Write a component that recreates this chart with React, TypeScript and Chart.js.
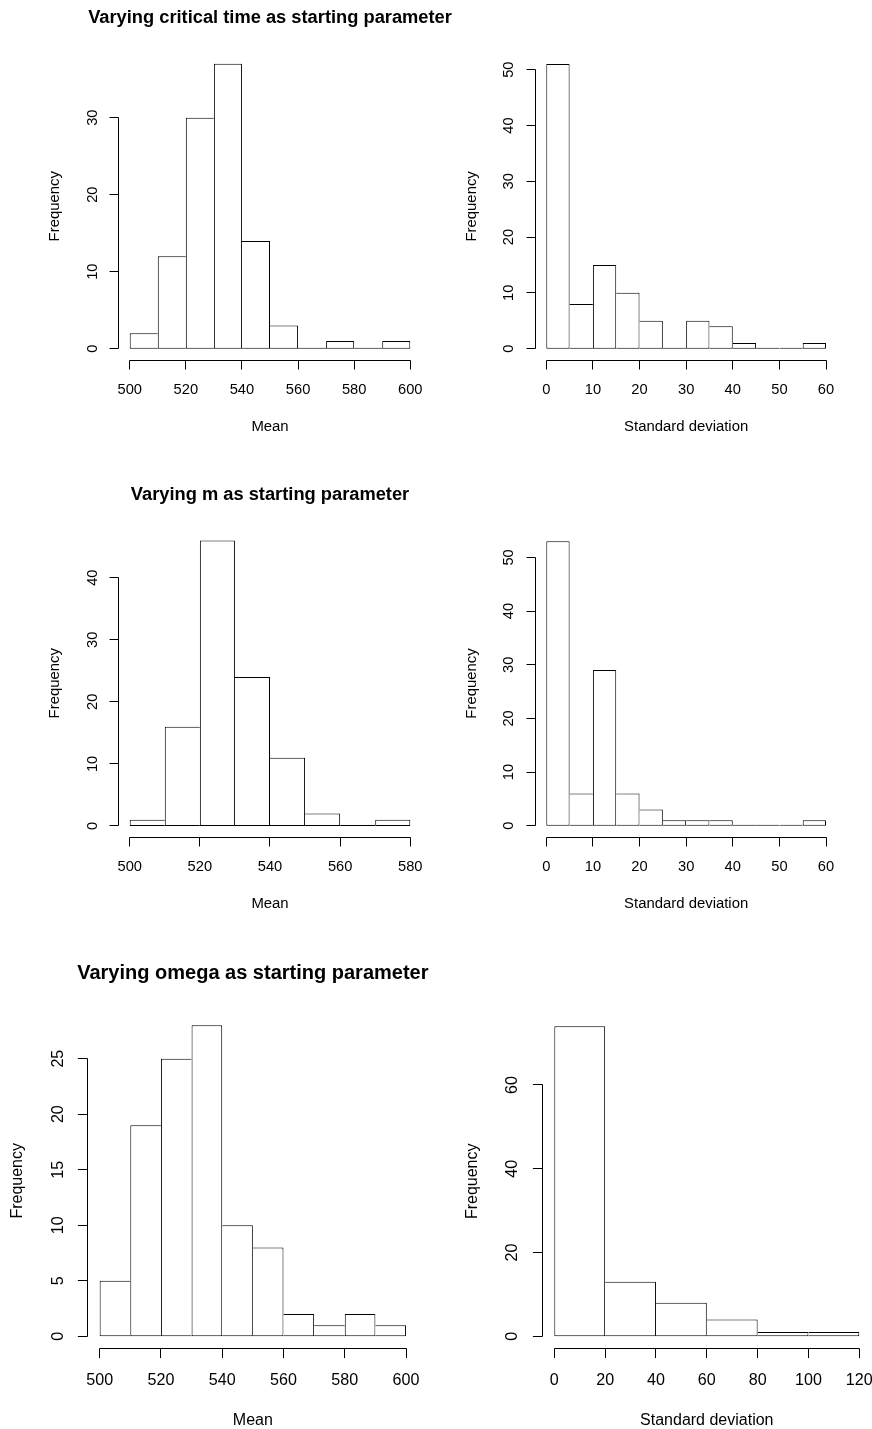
import React, { useEffect, useRef } from "react";
import { Chart, registerables } from "chart.js";

Chart.register(...registerables);

// ---------------- Data ----------------
const critMeanBreaks = [500, 510, 520, 530, 540, 550, 560, 570, 580, 590, 600];
const critMeanCounts = [2, 12, 30, 37, 14, 3, 0, 1, 0, 1];
const critMeanXTicks = [500, 520, 540, 560, 580, 600];
const critMeanYTicks = [0, 10, 20, 30];

const critSdBreaks = [0, 5, 10, 15, 20, 25, 30, 35, 40, 45, 50, 55, 60];
const critSdCounts = [51, 8, 15, 10, 5, 0, 5, 4, 1, 0, 0, 1];
const critSdXTicks = [0, 10, 20, 30, 40, 50, 60];
const critSdYTicks = [0, 10, 20, 30, 40, 50];

const mMeanBreaks = [500, 510, 520, 530, 540, 550, 560, 570, 580];
const mMeanCounts = [1, 16, 46, 24, 11, 2, 0, 1];
const mMeanXTicks = [500, 520, 540, 560, 580];
const mMeanYTicks = [0, 10, 20, 30, 40];

const mSdBreaks = [0, 5, 10, 15, 20, 25, 30, 35, 40, 45, 50, 55, 60];
const mSdCounts = [53, 6, 29, 6, 3, 1, 1, 1, 0, 0, 0, 1];
const mSdXTicks = [0, 10, 20, 30, 40, 50, 60];
const mSdYTicks = [0, 10, 20, 30, 40, 50];

const omegaMeanBreaks = [500, 510, 520, 530, 540, 550, 560, 570, 580, 590, 600];
const omegaMeanCounts = [5, 19, 25, 28, 10, 8, 2, 1, 2, 1];
const omegaMeanXTicks = [500, 520, 540, 560, 580, 600];
const omegaMeanYTicks = [0, 5, 10, 15, 20, 25];

const omegaSdBreaks = [0, 20, 40, 60, 80, 100, 120];
const omegaSdCounts = [74, 13, 8, 4, 1, 1];
const omegaSdXTicks = [0, 20, 40, 60, 80, 100, 120];
const omegaSdYTicks = [0, 20, 40, 60];

const mainTitles = [
  "Varying critical time as starting parameter",
  "Varying m as starting parameter",
  "Varying omega as starting parameter",
];
const meanLabel = "Mean";
const sdLabel = "Standard deviation";
const freqLabel = "Frequency";

// ---------------- Layout / style ----------------
const FONT = '"Liberation Sans", Arial, Helvetica, sans-serif';

const topMetrics = {
  tickLen: 9,
  xTickBase: 34,
  xLabBase: 71,
  yTickBase: 22,
  yLabBase: 59.5,
  titleBase: 29.3,
  tickFont: 14.7,
  labFont: 14.9,
  titleFont: 18.3,
};
const bottomMetrics = {
  tickLen: 9.6,
  xTickBase: 36.3,
  xLabBase: 76.3,
  yTickBase: 24.9,
  yLabBase: 65.1,
  titleBase: 33.6,
  tickFont: 16.1,
  labFont: 16,
  titleFont: 20,
};

type PanelSpec = {
  breaks: number[];
  counts: number[];
  xTicks: number[];
  yTicks: number[];
  title: string | null;
  xLabel: string;
  canvas: { left: number; top: number; w: number; h: number };
  area: { L: number; T: number; R: number; B: number };
  m: typeof topMetrics;
};

const panels: PanelSpec[] = [
  {
    breaks: critMeanBreaks, counts: critMeanCounts, xTicks: critMeanXTicks, yTicks: critMeanYTicks,
    title: mainTitles[0], xLabel: meanLabel,
    canvas: { left: 0, top: 0, w: 480, h: 450 },
    area: { L: 118.5, T: 52.4, R: 421.5, B: 360.1 }, m: topMetrics,
  },
  {
    breaks: critSdBreaks, counts: critSdCounts, xTicks: critSdXTicks, yTicks: critSdYTicks,
    title: null, xLabel: sdLabel,
    canvas: { left: 436, top: 0, w: 436, h: 450 },
    area: { L: 535.1, T: 52.7, R: 837.2, B: 360.05 }, m: topMetrics,
  },
  {
    breaks: mMeanBreaks, counts: mMeanCounts, xTicks: mMeanXTicks, yTicks: mMeanYTicks,
    title: mainTitles[1], xLabel: meanLabel,
    canvas: { left: 0, top: 470, w: 480, h: 460 },
    area: { L: 118.5, T: 529.0, R: 421.5, B: 837.4 }, m: topMetrics,
  },
  {
    breaks: mSdBreaks, counts: mSdCounts, xTicks: mSdXTicks, yTicks: mSdYTicks,
    title: null, xLabel: sdLabel,
    canvas: { left: 436, top: 470, w: 436, h: 460 },
    area: { L: 535.1, T: 529.9, R: 837.2, B: 837.1 }, m: topMetrics,
  },
  {
    breaks: omegaMeanBreaks, counts: omegaMeanCounts, xTicks: omegaMeanXTicks, yTicks: omegaMeanYTicks,
    title: mainTitles[2], xLabel: meanLabel,
    canvas: { left: 0, top: 950, w: 480, h: 479 },
    area: { L: 87.4, T: 1012.9, R: 418.3, B: 1348.7 }, m: bottomMetrics,
  },
  {
    breaks: omegaSdBreaks, counts: omegaSdCounts, xTicks: omegaSdXTicks, yTicks: omegaSdYTicks,
    title: null, xLabel: sdLabel,
    canvas: { left: 436, top: 950, w: 436, h: 479 },
    area: { L: 542.1, T: 1013.9, R: 871.5, B: 1348.7 }, m: bottomMetrics,
  },
];

// R-style detached axes, labels and title, positioned via the chart's scales
const rAxesPlugin = {
  id: "rAxes",
  afterDraw(chart: any, _args: any, o: any) {
    const { ctx, chartArea: ca } = chart;
    const xs = chart.scales.x;
    const ys = chart.scales.y;
    const m = o.m;
    const snap = (v: number) => Math.floor(v) + 0.5;
    ctx.save();
    ctx.strokeStyle = "#000";
    ctx.fillStyle = "#000";
    ctx.lineWidth = 1;

    // x axis
    const ay = snap(ca.bottom);
    const xt: number[] = o.xTicks;
    ctx.beginPath();
    ctx.moveTo(snap(xs.getPixelForValue(xt[0])), ay);
    ctx.lineTo(snap(xs.getPixelForValue(xt[xt.length - 1])), ay);
    for (const t of xt) {
      const px = snap(xs.getPixelForValue(t));
      ctx.moveTo(px, ay);
      ctx.lineTo(px, ay + m.tickLen);
    }
    // y axis
    const ax = snap(ca.left);
    const yt: number[] = o.yTicks;
    ctx.moveTo(ax, snap(ys.getPixelForValue(yt[0])));
    ctx.lineTo(ax, snap(ys.getPixelForValue(yt[yt.length - 1])));
    for (const t of yt) {
      const py = snap(ys.getPixelForValue(t));
      ctx.moveTo(ax, py);
      ctx.lineTo(ax - m.tickLen, py);
    }
    ctx.stroke();

    // tick labels
    ctx.textAlign = "center";
    ctx.textBaseline = "alphabetic";
    ctx.font = `${m.tickFont}px ${FONT}`;
    for (const t of xt) {
      ctx.fillText(String(t), xs.getPixelForValue(t), ca.bottom + m.xTickBase);
    }
    for (const t of yt) {
      ctx.save();
      ctx.translate(ca.left - m.yTickBase, ys.getPixelForValue(t));
      ctx.rotate(-Math.PI / 2);
      ctx.fillText(String(t), 0, 0);
      ctx.restore();
    }

    // axis titles
    ctx.font = `${m.labFont}px ${FONT}`;
    ctx.fillText(o.xLabel, (ca.left + ca.right) / 2, ca.bottom + m.xLabBase);
    ctx.save();
    ctx.translate(ca.left - m.yLabBase, (ca.top + ca.bottom) / 2);
    ctx.rotate(-Math.PI / 2);
    ctx.fillText(o.yLabel, 0, 0);
    ctx.restore();

    // main title
    if (o.title) {
      ctx.font = `bold ${m.titleFont}px ${FONT}`;
      ctx.fillText(o.title, (ca.left + ca.right) / 2, ca.top - m.titleBase);
    }
    ctx.restore();
  },
};

function HistPanel({ spec }: { spec: PanelSpec }) {
  const ref = useRef<HTMLCanvasElement | null>(null);

  useEffect(() => {
    const canvas = ref.current;
    if (!canvas) return;
    const { breaks, counts, xTicks, yTicks, canvas: cv, area, m } = spec;
    const xMin = breaks[0];
    const xMax = breaks[breaks.length - 1];
    const xExt = (xMax - xMin) * 0.04;
    const yMax = Math.max(...counts);
    const yExt = yMax * 0.04;
    const n = counts.length;

    const borderWidth = (c: any) => {
      if (c.type !== "data") return 1;
      const i = c.dataIndex;
      const v = counts[i];
      const left = i === 0 || v > counts[i - 1] ? 1 : 0;
      const right = i === n - 1 || v >= counts[i + 1] ? 1 : 0;
      return { top: 1, bottom: 1, left, right };
    };

    const chart = new Chart(canvas, {
      type: "bar",
      data: {
        datasets: [
          {
            data: counts.map((c, i) => ({ x: (breaks[i] + breaks[i + 1]) / 2, y: c })),
            backgroundColor: "#ffffff",
            borderColor: "#000000",
            borderWidth: borderWidth as any,
            borderSkipped: false,
            inflateAmount: 0,
            barPercentage: 1,
            categoryPercentage: 1,
            minBarLength: 1,
            base: -1e-6,
          } as any,
        ],
      },
      options: {
        responsive: false,
        animation: false,
        devicePixelRatio: 1,
        events: [],
        layout: {
          padding: {
            left: area.L - cv.left,
            top: area.T - cv.top,
            right: cv.left + cv.w - area.R,
            bottom: cv.top + cv.h - area.B,
          },
        },
        plugins: {
          legend: { display: false },
          tooltip: { enabled: false },
          title: { display: false },
          rAxes: {
            xTicks,
            yTicks,
            title: spec.title,
            xLabel: spec.xLabel,
            yLabel: freqLabel,
            m,
          },
        } as any,
        scales: {
          x: {
            type: "linear",
            display: false,
            offset: false,
            min: xMin - xExt,
            max: xMax + xExt,
            afterBuildTicks: (s: any) => {
              s.ticks = xTicks.map((v) => ({ value: v }));
            },
          },
          y: {
            type: "linear",
            display: false,
            min: -yExt,
            max: yMax + yExt,
            afterBuildTicks: (s: any) => {
              s.ticks = yTicks.map((v) => ({ value: v }));
            },
          },
        },
      } as any,
      plugins: [rAxesPlugin as any],
    });
    return () => chart.destroy();
  }, [spec]);

  return (
    <canvas
      ref={ref}
      width={spec.canvas.w}
      height={spec.canvas.h}
      style={{
        position: "absolute",
        left: spec.canvas.left,
        top: spec.canvas.top,
        width: spec.canvas.w,
        height: spec.canvas.h,
      }}
    />
  );
}

export default function App() {
  return (
    <div
      style={{
        position: "absolute",
        left: 0,
        top: 0,
        width: 872,
        height: 1429,
        background: "#ffffff",
        overflow: "hidden",
      }}
    >
      {panels.map((p, i) => (
        <HistPanel key={i} spec={p} />
      ))}
    </div>
  );
}
